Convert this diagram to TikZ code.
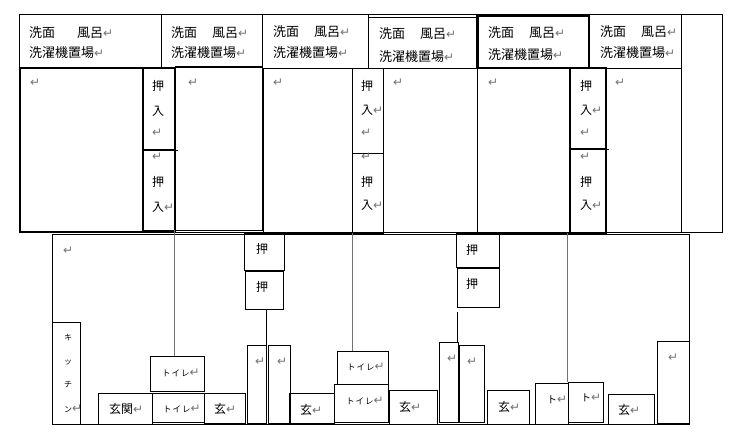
\documentclass[tikz,border=0pt]{standalone}
\usepackage{fontspec}
\usetikzlibrary{fit}
\newfontfamily\jp{Noto Sans CJK JP}
\newfontfamily\dvs{DejaVu Sans}
\newcommand{\rmk}{{\dvs\fontsize{12}{12}\selectfont\textcolor{black!55}{↵}}}
\newcommand{\bx}[6][]{\path (#3,#4) coordinate (#2-a) (#5,#6) coordinate (#2-b); \node[box,#1,fit=(#2-a)(#2-b)] (#2) {};}
\tikzset{
  box/.style={draw, inner sep=0pt, line width=0.8pt},
  heavy/.style={line width=1.3pt},
  t13/.style={anchor=west, inner sep=0pt, font=\jp\fontsize{13}{15}\selectfont},
  t12/.style={anchor=west, inner sep=0pt, font=\jp\fontsize{12}{14}\selectfont},
  t10/.style={anchor=west, inner sep=0pt, font=\jp\fontsize{10}{12}\selectfont},
  t8/.style={anchor=west, inner sep=0pt, font=\jp\fontsize{8.5}{10}\selectfont},
  t7/.style={anchor=west, inner sep=0pt, font=\jp\fontsize{8}{9}\selectfont},
  rm/.style={anchor=west, inner sep=0pt},
  wall/.style={line width=0.8pt},
  grayline/.style={line width=0.9pt, draw=black!55}
}
\begin{document}
\begin{tikzpicture}[x=1pt,y=-1pt]
\useasboundingbox (0,0) rectangle (729,433);
% ---------- upper block ----------
\bx{outer}{19}{14}{722}{232}
\bx{w1}{19}{14}{161}{68}
\bx{w2}{161}{14}{262}{67}
\bx{w3}{262}{14}{368}{68}
\bx{w4}{368}{17}{478}{68}
\bx[heavy]{w5}{477}{16}{589}{68}
\bx{w6}{589}{14}{681}{68}
\bx[heavy]{rA}{20}{68}{143}{232}
\bx[heavy]{cA1}{143}{68}{175}{150}
\bx[heavy]{cA2}{143}{150}{175}{231}
\bx{rB}{175}{66}{262}{230}
\bx{rC}{263}{68}{352}{233}
\bx{cB1}{352}{68}{383}{153}
\bx{cB2}{352}{153}{383}{233}
\bx{rD}{383}{68}{477}{232}
\bx{rE}{477}{68}{570}{233}
\bx[heavy]{cC1}{570}{68}{606}{149}
\bx[heavy]{cC2}{570}{149}{606}{233}
\bx{rF}{606}{68}{681}{232}
\draw[wall] (cA1.south east) -- ++(2,0);
\draw[wall] (cC1.south east) -- ++(2,0);
% washroom texts
\node[t13] (tw1a) at (29,33) {洗面\hspace{22pt}風呂\rmk};
\node[t13] (tw1b) at (29,53) {洗濯機置場\rmk};
\node[t13] (tw2a) at (171,33) {洗面\hspace{15pt}風呂\rmk};
\node[t13] (tw2b) at (171,53) {洗濯機置場\rmk};
\node[t13] (tw3a) at (273,32) {洗面\hspace{15pt}風呂\rmk};
\node[t13] (tw3b) at (273,53) {洗濯機置場\rmk};
\node[t13] (tw4a) at (379,34) {洗面\hspace{15pt}風呂\rmk};
\node[t13] (tw4b) at (379,57) {洗濯機置場\rmk};
\node[t13] (tw5a) at (488,33) {洗面\hspace{15pt}風呂\rmk};
\node[t13] (tw5b) at (488,55) {洗濯機置場\rmk};
\node[t13] (tw6a) at (600,32) {洗面\hspace{15pt}風呂\rmk};
\node[t13] (tw6b) at (600,53) {洗濯機置場\rmk};
% room marks
\node[rm] (mA) at (30,83) {\rmk};
\node[rm] (mB) at (188,83) {\rmk};
\node[rm] (mC) at (273,83) {\rmk};
\node[rm] (mD) at (393,83) {\rmk};
\node[rm] (mE) at (488,83) {\rmk};
\node[rm] (mF) at (615,83) {\rmk};
% closet A
\node[t12] (ca1) at (152,86) {押};
\node[t12] (ca2) at (152,111) {入};
\node[rm] (ca3) at (152,133) {\rmk};
\node[rm] (ca4) at (152,157) {\rmk};
\node[t12] (ca5) at (152,182) {押};
\node[t12] (ca6) at (152,207) {入\rmk};
% closet B
\node[t12] (cb1) at (361,86) {押};
\node[t12] (cb2) at (361,110) {入\rmk};
\node[rm] (cb3) at (361,133) {\rmk};
\node[rm] (cb4) at (361,157) {\rmk};
\node[t12] (cb5) at (361,182) {押};
\node[t12] (cb6) at (361,205) {入\rmk};
% closet C
\node[t12] (cc1) at (580,86) {押};
\node[t12] (cc2) at (580,110) {入\rmk};
\node[rm] (cc3) at (580,133) {\rmk};
\node[rm] (cc4) at (580,157) {\rmk};
\node[t12] (cc5) at (580,182) {押};
\node[t12] (cc6) at (580,205) {入\rmk};
% ---------- lower block ----------
\bx{outerB}{52}{234}{689}{424}
\bx{kit}{52}{322}{80}{424}
\bx{toi1}{150}{356}{204}{391}
\bx{gen1}{98}{393}{152}{424}
\bx{toi2}{152}{393}{204}{422}
\bx{gen2}{204}{393}{245}{423}
\bx{osh1}{244}{233}{284}{270}
\bx{osh2}{245}{271}{283}{309}
\bx{nar1}{247}{345}{266}{423}
\bx{nar2}{268}{345}{290}{423}
\bx{gen3}{289}{393}{334}{423}
\bx{toi3}{337}{351}{388}{384}
\bx{toi4}{334}{384}{388}{422}
\bx{gen4}{389}{390}{437}{424}
\bx{osh3}{456}{233}{499}{267}
\bx{osh4}{457}{268}{499}{307}
\bx{nar3}{439}{342}{458}{422}
\bx{nar4}{459}{345}{484}{422}
\bx{gen5}{487}{390}{529}{424}
\bx{to1}{535}{383}{568}{424}
\bx{to2}{568}{382}{603}{422}
\bx{gen6}{608}{394}{654}{424}
\bx{tall}{657}{341}{689}{423}
% connectors
\draw[grayline] (rB.south west) -- (rB.south west |- toi1.north);
\draw[grayline] (rC.south east) -- (rC.south east |- toi3.north);
\draw[grayline] (to2.north west |- rE.south) -- (to2.north west);
\draw[wall] (osh2.south -| nar1.east) -- (outerB.south -| nar1.east);
\coordinate (l5) at (457,312);
\draw[wall] (l5) -- (l5 |- nar3.north);
% lower texts
\node[rm] (mG) at (63,251) {\rmk};
\node[t7] (k1) at (64,338) {キ};
\node[t7] (k2) at (64,362) {ッ};
\node[t7] (k3) at (64,385) {チ};
\node[t7] (k4) at (64,409) {ン\rmk};
\node[t8] (tt1) at (162,373) {ト\hspace{1pt}イ\hspace{1pt}レ\rmk};
\node[t12] (tg1) at (109,409) {玄関\rmk};
\node[t8] (tt2) at (163,409) {ト\hspace{1pt}イ\hspace{1pt}レ\rmk};
\node[t12] (tg2) at (214,409) {玄\rmk};
\node[t12] (to1t) at (256,249) {押};
\node[t12] (to2t) at (256,287) {押};
\node[rm] (mn1) at (255,362) {\rmk};
\node[rm] (mn2) at (277,362) {\rmk};
\node[t12] (tg3) at (300,410) {玄\rmk};
\node[t8] (tt3) at (347,367) {ト\hspace{1pt}イ\hspace{1pt}レ\rmk};
\node[t8] (tt4) at (346,401) {ト\hspace{1pt}イ\hspace{1pt}レ\rmk};
\node[t12] (tg4) at (399,407) {玄\rmk};
\node[t12] (to3t) at (466,250) {押};
\node[t12] (to4t) at (466,284) {押};
\node[rm] (mn3) at (447,359) {\rmk};
\node[rm] (mn4) at (467,362) {\rmk};
\node[t12] (tg5) at (498,407) {玄\rmk};
\node[t10] (tto1) at (547,400) {ト\rmk};
\node[t10] (tto2) at (581,398) {ト\rmk};
\node[t12] (tg6) at (618,410) {玄\rmk};
\node[rm] (mt) at (668,358) {\rmk};
\end{tikzpicture}
\end{document}
